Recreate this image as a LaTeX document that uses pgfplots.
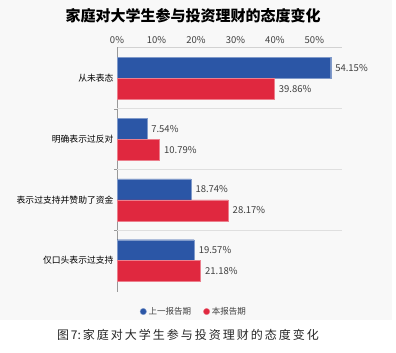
\documentclass[border=0pt]{standalone}
\usepackage{fontspec}
\setmainfont{Noto Sans CJK SC}
\usepackage{pgfplots}
\pgfplotsset{compat=1.18}
\definecolor{cblue}{HTML}{2B56A6}
\definecolor{cred}{HTML}{E0283F}
\definecolor{txtgray}{HTML}{404040}
\definecolor{panel}{HTML}{F8F8F8}
\begin{document}
\begin{tikzpicture}
\useasboundingbox (0pt,0pt) rectangle (396pt,-353pt);
\fill[panel] (0pt,0pt) rectangle (392pt,-320pt);
\node[font=\fontsize{15}{15}\selectfont\bfseries] at (193pt,-16pt) {家庭对大学生参与投资理财的态度变化};
\node[font=\fontsize{12}{12}\selectfont, text=black!85] at (188pt,-335pt) {图\,7:\,家\,庭\,对\,大\,学\,生\,参\,与\,投\,资\,理\,财\,的\,态\,度\,变\,化};
\begin{axis}[
  at={(117pt,-292pt)}, anchor=south west,
  width=225pt, height=245pt, scale only axis,
  xbar, bar width=0.344,
  xmin=0, xmax=57, ymin=-0.516, ymax=3.516,
  y dir=reverse,
  axis x line*=top, axis y line*=left,
  x axis line style={-, draw=gray!35},
  y axis line style={-, draw=gray!80},
  xtick={0,10,20,30,40,50},
  xticklabel={\pgfmathprintnumber{\tick}\%},
  /pgf/number format/assume math mode=true,
  x tick label style={font=\fontsize{9.5}{10}\selectfont, text=txtgray},
  x tick style={draw=none},
  ytick={0,1,2,3},
  yticklabels={从未表态,明确表示过反对,表示过支持并赞助了资金,仅口头表示过支持},
  y tick label style={font=\fontsize{8.8}{9}\selectfont, text=black},
  major tick length=0pt,
  extra y ticks={0.5,1.5,2.5},
  extra y tick labels={},
  extra y tick style={grid=major, major grid style={draw=gray!25, line width=0.6pt}, major tick length=3pt, tick align=outside, tick style={draw=gray!80}},
  nodes near coords={\pgfmathprintnumber[fixed,precision=2,fixed zerofill]{\pgfplotspointmeta}\%},
  point meta=x,
  every node near coord/.append style={font=\fontsize{9.5}{10}\selectfont, text=txtgray, xshift=1pt},
  legend style={at={(0.342,-0.045)}, anchor=north, draw=none, fill=none, legend columns=2,
    font=\fontsize{8.5}{9}\selectfont, text=txtgray, /tikz/every even column/.append style={column sep=10pt}},
  legend image code/.code={\fill (0.15cm,0cm) circle (3.2pt);},
  clip=false,
]
\addplot[draw=cblue!60, fill=cblue, bar shift=-0.172] coordinates {(54.15,0) (7.54,1) (18.74,2) (19.57,3)};
\addplot[draw=cred!60, fill=cred, bar shift=0.172] coordinates {(39.86,0) (10.79,1) (28.17,2) (21.18,3)};
\legend{上一报告期,本报告期}
\end{axis}
\end{tikzpicture}
\end{document}
